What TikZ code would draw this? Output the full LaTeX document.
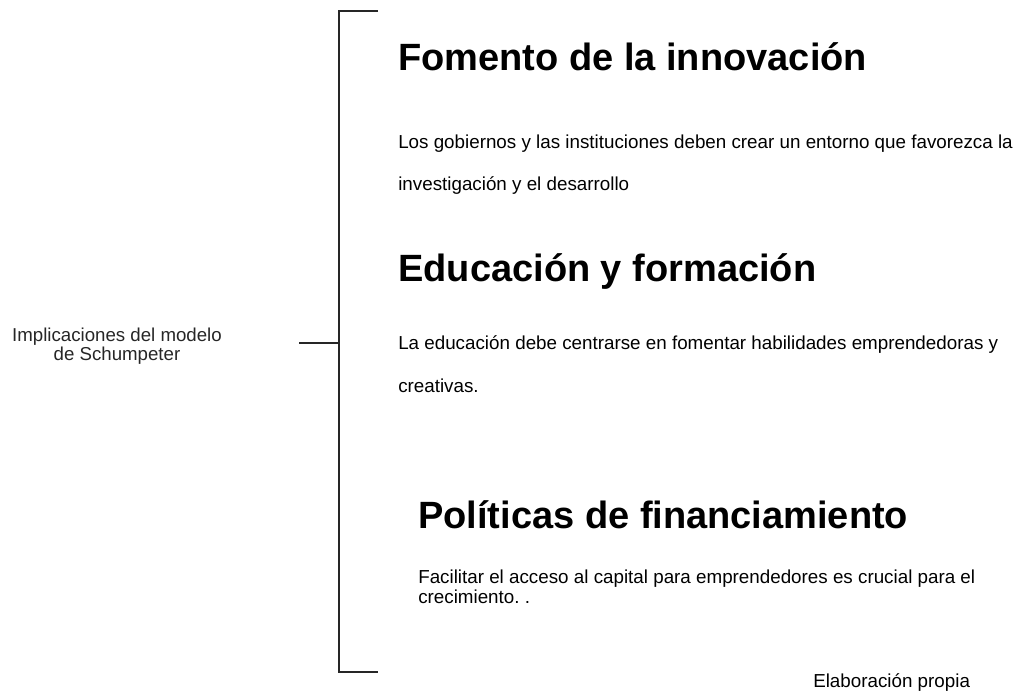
\documentclass[tikz,border=0pt]{standalone}
\usepackage{fontspec}
\setmainfont{Liberation Sans}
\frenchspacing
\begin{document}
\begin{tikzpicture}[x=0.75pt,y=-0.75pt,
    heading/.style={anchor=base west, inner sep=0pt, font=\fontsize{28.5}{32}\selectfont\bfseries},
    body/.style={anchor=base west, inner sep=0pt, font=\fontsize{14.1}{14.5}\selectfont},
    bracket/.style={line width=2.2pt, color=black!85}]
    \useasboundingbox (0,0) rectangle (1021,692);

    % Set up bracket corners
    \coordinate (top) at (339,11);
    \coordinate (topend) at (378,11);
    \coordinate (bot) at (339,672);
    \coordinate (botend) at (378,672);
    \coordinate (mid) at (339,343);
    \coordinate (tick) at (299,343);

    % Draw bracket
    \draw[bracket] (topend) -- (top) -- (bot) -- (botend);
    \draw[bracket] (tick) -- (mid);

    % Left label
    \node[align=center, font=\fontsize{14}{14.5}\selectfont, text=black!85] (label) at (117,346) {Implicaciones del modelo\\de Schumpeter};

    % First block
    \node[heading] (fomento) at (398,71) {Fomento de la innovación};
    \node[body] (fomentoa) at (398,148) {Los gobiernos y las instituciones deben crear un entorno que favorezca la};
    \node[body] (fomentob) at (398,190) {investigación y el desarrollo};

    % Second block
    \node[heading] (educacion) at (398,281) {Educación y formación};
    \node[body] (educaciona) at (398,349) {La educación debe centrarse en fomentar habilidades emprendedoras y};
    \node[body] (educacionb) at (398,392) {creativas.};

    % Third block
    \node[heading] (politicas) at (418,528) {Políticas de financiamiento};
    \node[body] (politicasa) at (418,583) {Facilitar el acceso al capital para emprendedores es crucial para el};
    \node[body] (politicasb) at (418,603) {crecimiento. .};

    % Source
    \node[body] (fuente) at (813,687) {Elaboración propia};
\end{tikzpicture}
\end{document}
